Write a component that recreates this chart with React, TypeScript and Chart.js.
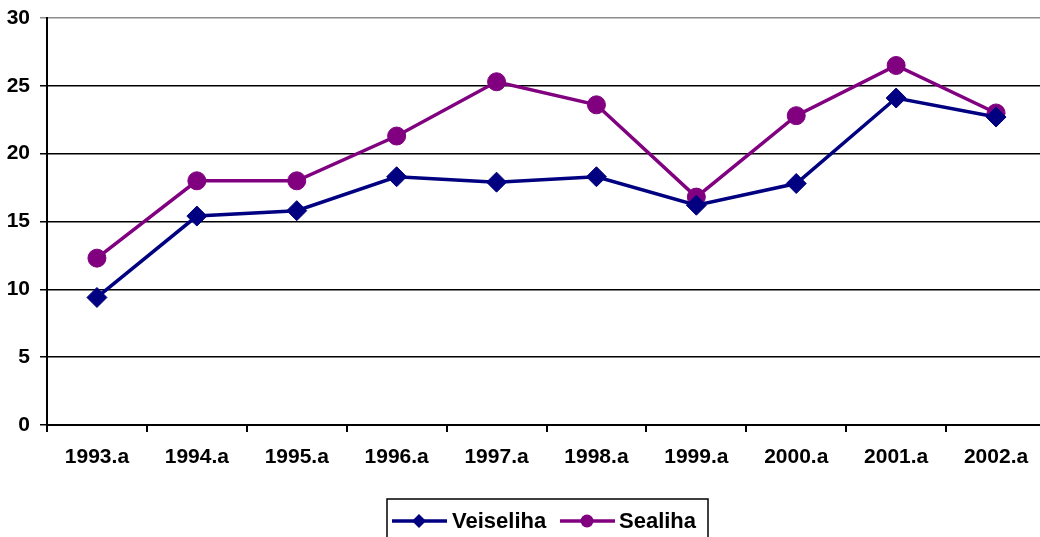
import React, { useEffect, useRef } from "react";
import { Chart, registerables } from "chart.js";

Chart.register(...registerables);

const categories = ["1993.a", "1994.a", "1995.a", "1996.a", "1997.a", "1998.a", "1999.a", "2000.a", "2001.a", "2002.a"];
const veiseliha = [9.4, 15.4, 15.8, 18.3, 17.9, 18.3, 16.2, 17.8, 24.1, 22.7];
const sealiha = [12.3, 18.0, 18.0, 21.3, 25.3, 23.6, 16.8, 22.8, 26.5, 23.0];
const yTicks = [0, 5, 10, 15, 20, 25, 30];

const BLUE = "#000080";
const PURPLE = "#800080";
const FONT = "'Liberation Sans', Arial, sans-serif";

const legendPlugin = {
  id: "customLegend",
  afterDraw(chart: any) {
    const ctx = chart.ctx as CanvasRenderingContext2D;
    ctx.save();
    ctx.strokeStyle = "#000";
    ctx.lineWidth = 1.5;
    ctx.strokeRect(387, 499, 321, 60);
    const cy = 521;
    // Veiseliha
    ctx.strokeStyle = BLUE;
    ctx.fillStyle = BLUE;
    ctx.lineWidth = 3.5;
    ctx.beginPath();
    ctx.moveTo(392, cy);
    ctx.lineTo(447, cy);
    ctx.stroke();
    ctx.beginPath();
    ctx.moveTo(419 - 7, cy);
    ctx.lineTo(419, cy - 7);
    ctx.lineTo(419 + 7, cy);
    ctx.lineTo(419, cy + 7);
    ctx.closePath();
    ctx.fill();
    // Sealiha
    ctx.strokeStyle = PURPLE;
    ctx.fillStyle = PURPLE;
    ctx.beginPath();
    ctx.moveTo(560, cy);
    ctx.lineTo(615, cy);
    ctx.stroke();
    ctx.beginPath();
    ctx.arc(587, cy, 6.5, 0, Math.PI * 2);
    ctx.fill();
    ctx.fillStyle = "#000";
    ctx.font = `bold 22px ${FONT}`;
    ctx.textBaseline = "middle";
    ctx.textAlign = "left";
    ctx.fillText(chart.data.datasets[0].label, 452, cy + 1);
    ctx.fillText(chart.data.datasets[1].label, 619, cy + 1);
    ctx.restore();
  },
};

export default function App() {
  const ref = useRef<HTMLCanvasElement | null>(null);
  useEffect(() => {
    if (!ref.current) return;
    const chart = new Chart(ref.current, {
      type: "line",
      data: {
        labels: categories,
        datasets: [
          {
            label: "Veiseliha",
            data: veiseliha,
            borderColor: BLUE,
            backgroundColor: BLUE,
            borderWidth: 3.5,
            pointStyle: "rectRot",
            pointRadius: 10,
            pointBorderWidth: 1,
            tension: 0,
          },
          {
            label: "Sealiha",
            data: sealiha,
            borderColor: PURPLE,
            backgroundColor: PURPLE,
            borderWidth: 3.5,
            pointStyle: "circle",
            pointRadius: 9,
            pointBorderWidth: 1,
            tension: 0,
          },
        ],
      },
      options: {
        animation: false,
        responsive: false,
        maintainAspectRatio: false,
        layout: { padding: { left: 0, top: 18, right: 3, bottom: 0 } },
        plugins: {
          legend: { display: false },
          tooltip: { enabled: false },
        },
        scales: {
          x: {
            offset: true,
            grid: {
              offset: true,
              drawOnChartArea: false,
              drawTicks: true,
              tickLength: 7,
              color: "#000",
              lineWidth: 2,
            },
            border: { display: true, color: "#000", width: 2 },
            ticks: {
              color: "#000",
              font: { family: FONT, size: 21, weight: "bold" },
              padding: 13,
              maxRotation: 0,
              autoSkip: false,
            },
            afterFit(scale: any) {
              scale.height = 112;
              scale.paddingLeft = 0;
              scale.paddingRight = 0;
            },
          },
          y: {
            min: 0,
            max: 30,
            afterBuildTicks(scale: any) {
              scale.ticks = yTicks.map((v) => ({ value: v }));
            },
            grid: {
              color: (c: any) => (c.tick && c.tick.value === 30 ? "#8c8c8c" : "#000"),
              lineWidth: 1.5,
              drawTicks: true,
              tickLength: 7,
            },
            border: { display: true, color: "#000", width: 2 },
            ticks: {
              color: "#000",
              font: { family: FONT, size: 21, weight: "bold" },
              padding: 10,
            },
            afterFit(scale: any) {
              scale.width = 47;
              scale.paddingTop = 0;
              scale.paddingBottom = 0;
            },
          },
        },
      },
      plugins: [legendPlugin],
    });
    return () => chart.destroy();
  }, []);
  return (
    <div style={{ position: "fixed", left: 0, top: 0, width: 1040, height: 537, overflow: "hidden", background: "#fff" }}>
      <canvas ref={ref} width={1057} height={537} style={{ width: 1057, height: 537, display: "block" }} />
    </div>
  );
}
